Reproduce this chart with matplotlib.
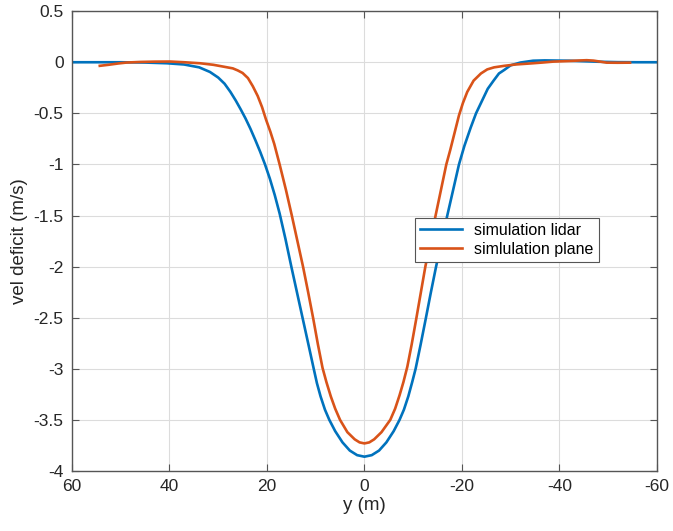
import numpy as np
import matplotlib.pyplot as plt

plt.rcParams['font.family'] = ['Liberation Sans', 'DejaVu Sans']
plt.rcParams['axes.unicode_minus'] = False

# simulation lidar (blue)
y_lidar = [60, 50, 45, 40.5, 37, 33.9, 31.7, 30, 28.7, 27.5, 26.4, 25.4, 24.4, 23.4, 22.4,
           21.4, 20.4, 19.4, 18.4, 17.4, 16.2, 15.0, 13.85, 12.7, 11.5, 10.4, 9.75,
           9.0, 8.1, 7.2, 6, 4.5, 3, 1.5, 0, -1.5, -3, -4.5, -6, -7.2, -8.1, -9.0, -9.8,
           -10.5, -11.5, -12.5, -13.6, -14.7, -15.85, -17.0, -18.2, -19.4, -20.5, -21.8,
           -22.9, -24.1, -25.3, -26.5, -27.6, -28.7, -30, -32, -34.6, -37, -42, -48, -52,
           -56, -60]
v_lidar = [0, 0, -0.003, -0.01, -0.022, -0.05, -0.095, -0.15, -0.21, -0.29, -0.375, -0.46,
           -0.55, -0.65, -0.76, -0.875, -1.0, -1.14, -1.3, -1.48, -1.73, -2.0, -2.25,
           -2.5, -2.76, -3.0, -3.14, -3.27, -3.4, -3.5, -3.61, -3.72, -3.8, -3.845, -3.86,
           -3.845, -3.8, -3.72, -3.61, -3.5, -3.4, -3.27, -3.13, -3.0, -2.77, -2.53, -2.26,
           -2.0, -1.75, -1.5, -1.25, -1.0, -0.82, -0.64, -0.5, -0.38, -0.26, -0.18, -0.11,
           -0.075, -0.03, -0.003, 0.015, 0.018, 0.015, 0.005, 0.001, 0.0, 0.0]

# simulation plane (orange)
y_plane = [54.3, 52.5, 50.5, 48.8, 46, 43, 39.9, 37, 33.7, 31, 28.7, 27, 26, 25, 23.9,
           22.9, 21.9, 21.0, 20.2, 19.3, 18.5, 17.4, 16.1, 14.9, 13.75, 12.6, 11.55, 10.5,
           9.55, 8.6, 7.8, 6.9, 6.0, 5.0, 3.5, 2, 1, 0, -1, -2, -3.5, -5.3, -6.3, -7.2,
           -8.0, -8.8, -9.7, -10.6, -11.55, -12.5, -13.55, -14.6, -15.7, -16.8, -17.6,
           -18.5, -19.4, -20.2, -21.1, -22.4, -23.9, -25.2, -26.6, -28.7, -31, -34, -36.5,
           -38.7, -42, -44, -45.6, -47, -48.5, -49.7, -52, -54.5]
v_plane = [-0.035, -0.025, -0.012, -0.003, 0.003, 0.006, 0.007, 0.0, -0.01, -0.025, -0.045,
           -0.06, -0.08, -0.105, -0.155, -0.235, -0.33, -0.44, -0.56, -0.68, -0.8, -1.0,
           -1.25, -1.5, -1.75, -2.0, -2.25, -2.51, -2.76, -2.99, -3.13, -3.27, -3.39, -3.5,
           -3.62, -3.69, -3.72, -3.73, -3.72, -3.69, -3.62, -3.5, -3.39, -3.26, -3.13,
           -2.98, -2.76, -2.52, -2.26, -2.0, -1.75, -1.5, -1.25, -1.0, -0.86, -0.69, -0.52,
           -0.4, -0.29, -0.18, -0.11, -0.07, -0.05, -0.035, -0.022, -0.012, -0.003, 0.006,
           0.012, 0.017, 0.02, 0.016, 0.005, -0.004, -0.005, -0.004]

fig = plt.figure(figsize=(6.73, 5.31), dpi=100)
ax = fig.add_axes([0.107, 0.113, 0.869, 0.866])

ax.plot(y_lidar, v_lidar, color='#0072BD', lw=1.9, label='simulation lidar',
        solid_joinstyle='round')
ax.plot(y_plane, v_plane, color='#D95319', lw=1.9, label='simlulation plane',
        solid_joinstyle='round')

ax.set_xlim(60, -60)
ax.set_ylim(-4, 0.5)
ax.set_xticks(np.arange(60, -61, -20))
ax.set_yticks(np.arange(-4, 0.51, 0.5))
ax.set_yticklabels(['-4', '-3.5', '-3', '-2.5', '-2', '-1.5', '-1', '-0.5', '0', '0.5'])

ax.grid(True, color='#dcdcdc', lw=0.8)
ax.set_axisbelow(True)
for s in ax.spines.values():
    s.set_color('#555555')
    s.set_linewidth(1.0)
ax.tick_params(direction='in', top=True, right=True, length=5, color='#555555',
               labelsize=12.5, labelcolor='#262626', pad=6)

ax.set_xlabel('y (m)', fontsize=13.5, color='#262626', labelpad=2)
ax.set_ylabel('vel deficit (m/s)', fontsize=13.5, color='#262626', labelpad=4)

leg = ax.legend(loc='upper left', bbox_to_anchor=(0.587, 0.55), fontsize=11.5,
                fancybox=False, framealpha=1, edgecolor='#555555',
                handlelength=2.6, borderpad=0.3, labelspacing=0.25, borderaxespad=0)
leg.get_frame().set_linewidth(0.8)

fig.savefig('out.png', dpi=100)
